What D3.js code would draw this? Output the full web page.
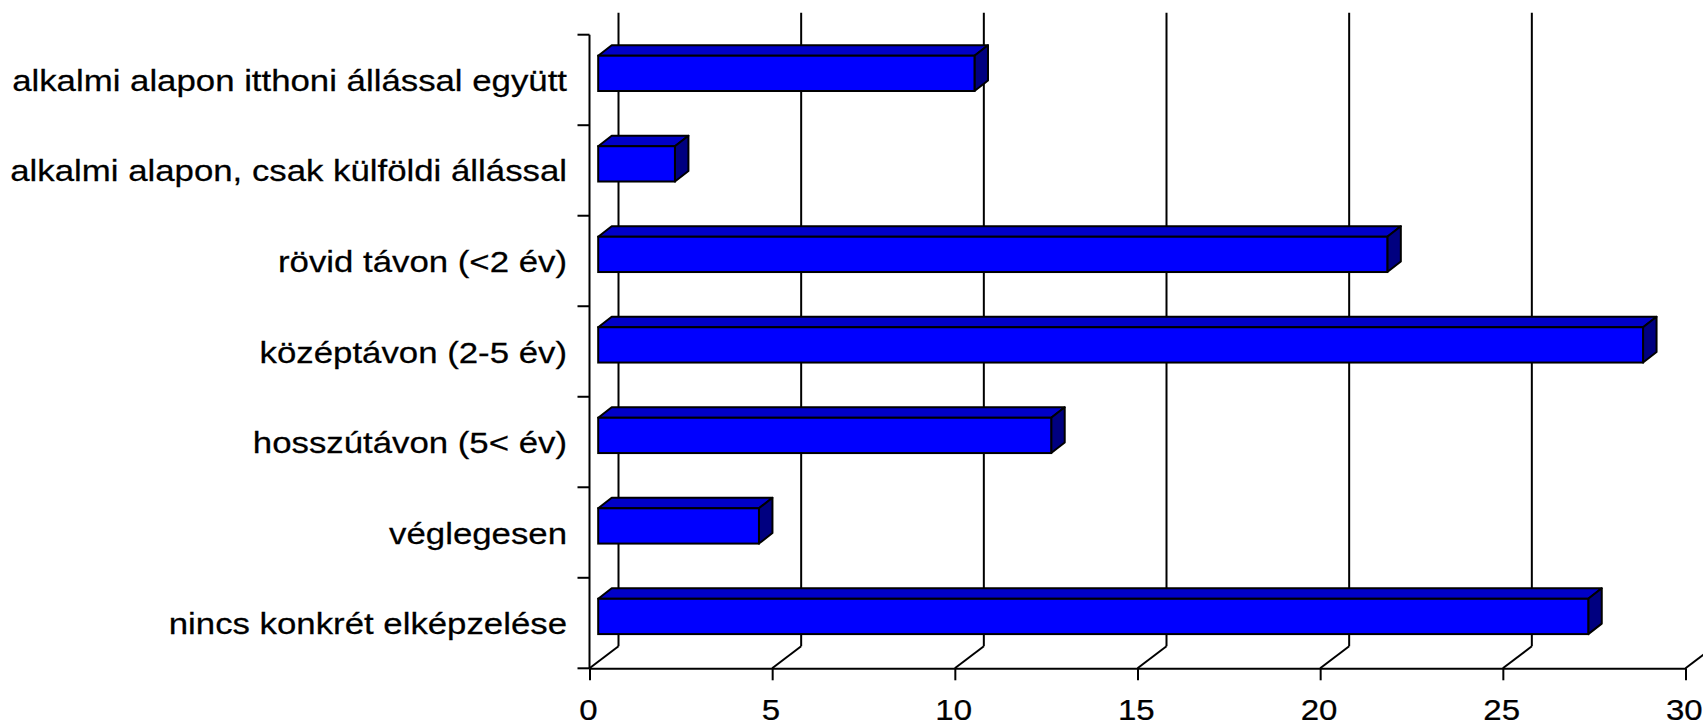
<!DOCTYPE html>
<html>
<head>
<meta charset="utf-8">
<script src="https://cdn.jsdelivr.net/npm/d3@7"></script>
<style>
  html, body { margin: 0; padding: 0; background: #fff; }
  svg { display: block; }
  text { font-family: "Liberation Sans", Arial, sans-serif; fill: #000; stroke: #000; stroke-width: 0.25px; }
</style>
</head>
<body>
<svg id="chart" width="1703" height="727"></svg>
<script>
// Categories (top to bottom) and their values
const categories = [
  "alkalmi alapon itthoni állással együtt",
  "alkalmi alapon, csak külföldi állással",
  "rövid távon (<2 év)",
  "középtávon (2-5 év)",
  "hosszútávon (5< év)",
  "véglegesen",
  "nincs konkrét elképzelése"
];
const values = [10.3, 2.1, 21.6, 28.6, 12.4, 4.4, 27.1];
const xTicks = [0, 5, 10, 15, 20, 25, 30];

// Layout of the pseudo-3D plot
const frontLeft = 589.5, frontRight = 1685.5;
const frontTop = 34.7, frontBottom = 668.3;
const DX = 29, DY = -22;           // depth offset of the back wall
const barDepthStart = 0.3;         // bar front plane, as fraction of depth
const barDX = 13.5, barDY = -10.5; // bar thickness in depth
const barHeightFrac = 0.39;
const labelStretch = 1.16;
const numberStretch = 1.1;
const fontSize = 30;

const svg = d3.select("#chart");

const x = d3.scaleLinear().domain([0, 30]).range([frontLeft, frontRight]);
const y = d3.scaleBand().domain(categories).range([frontTop, frontBottom]).padding(0);

const g = svg.append("g");

// Back-wall vertical gridlines
g.append("g").selectAll("line").data(xTicks).join("line")
  .attr("x1", d => x(d) + DX).attr("x2", d => x(d) + DX)
  .attr("y1", frontTop + DY).attr("y2", frontBottom + DY)
  .attr("stroke", "#000").attr("stroke-width", 2);

// Floor diagonals from the front axis to the back wall
g.append("g").selectAll("line").data(xTicks).join("line")
  .attr("x1", d => x(d)).attr("x2", d => x(d) + DX)
  .attr("y1", frontBottom).attr("y2", frontBottom + DY)
  .attr("stroke", "#000").attr("stroke-width", 2);

// Value axis along the front edge
const xAxis = d3.axisBottom(x).tickValues(xTicks).tickSize(12).tickSizeOuter(0).tickPadding(0);
const xg = g.append("g").attr("transform", `translate(0,${frontBottom})`).call(xAxis);
xg.select(".domain").attr("stroke", "#000").attr("stroke-width", 2);
xg.selectAll(".tick line").attr("stroke", "#000").attr("stroke-width", 2);
xg.selectAll(".tick text")
  .attr("x", -1.5).attr("y", 52).attr("dy", 0)
  .attr("transform", `scale(${numberStretch},1)`)
  .style("font-size", fontSize + "px")
  .style("font-family", '"Liberation Sans", Arial, sans-serif')
  .attr("fill", "#000");

// Category axis: vertical line with ticks on band boundaries
g.append("line")
  .attr("x1", frontLeft).attr("x2", frontLeft)
  .attr("y1", frontTop).attr("y2", frontBottom)
  .attr("stroke", "#000").attr("stroke-width", 2);
const boundaries = categories.map(c => y(c)).concat([frontBottom]);
g.append("g").selectAll("line").data(boundaries).join("line")
  .attr("x1", frontLeft - 12).attr("x2", frontLeft)
  .attr("y1", d => d).attr("y2", d => d)
  .attr("stroke", "#000").attr("stroke-width", 2);

// Category labels
g.append("g").selectAll("text").data(categories).join("text")
  .attr("transform", d => `translate(567,${y(d) + y.bandwidth() / 2 + 11}) scale(${labelStretch},1)`)
  .attr("text-anchor", "end")
  .style("font-size", fontSize + "px")
  .text(d => d);

// 3D bars
const bh = y.bandwidth() * barHeightFrac;
const sx = barDepthStart * DX, sy = barDepthStart * DY;
const bars = g.append("g").selectAll("g").data(categories.map((c, i) => ({ c, v: values[i] }))).join("g");

bars.each(function(d) {
  const sel = d3.select(this);
  const cy = y(d.c) + y.bandwidth() / 2 + sy;
  const x0 = x(0) + sx, x1 = x(d.v) + sx;
  const t = cy - bh / 2, b = cy + bh / 2;
  // top face
  sel.append("path")
    .attr("d", `M${x0},${t}L${x0 + barDX},${t + barDY}L${x1 + barDX},${t + barDY}L${x1},${t}Z`)
    .attr("fill", "#0000C8").attr("stroke", "#000").attr("stroke-width", 2).attr("stroke-linejoin", "round");
  // side face
  sel.append("path")
    .attr("d", `M${x1},${t}L${x1 + barDX},${t + barDY}L${x1 + barDX},${b + barDY}L${x1},${b}Z`)
    .attr("fill", "#000080").attr("stroke", "#000").attr("stroke-width", 2).attr("stroke-linejoin", "round");
  // front face
  sel.append("rect")
    .attr("x", x0).attr("y", t).attr("width", x1 - x0).attr("height", bh)
    .attr("fill", "#0000FF").attr("stroke", "#000").attr("stroke-width", 2);
});
</script>
</body>
</html>
